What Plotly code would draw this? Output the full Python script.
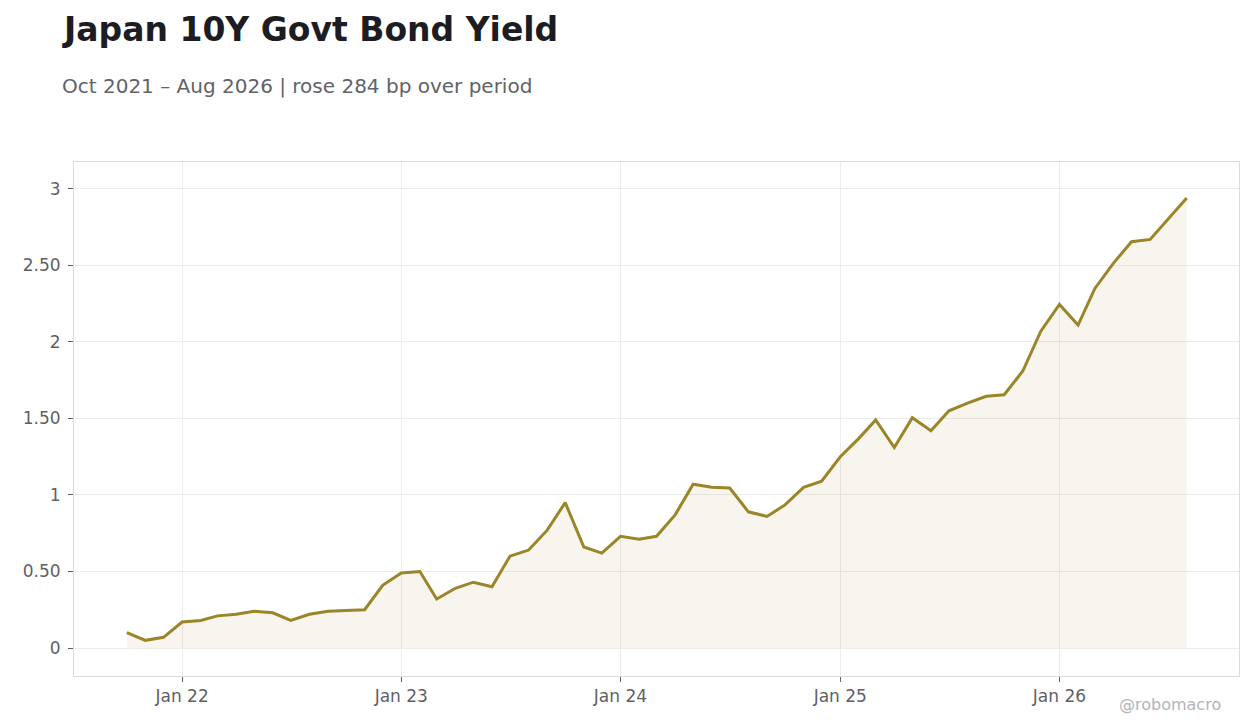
import pandas as pd
import plotly.graph_objs as go

# monthly JGB 10Y yield, Oct 2021 .. Aug 2026
months = pd.date_range("2021-10-01", "2026-08-01", freq="MS")
yields = [
    0.10, 0.05, 0.07,
    0.17, 0.18, 0.21, 0.22, 0.24, 0.23, 0.18, 0.22, 0.24, 0.245, 0.25, 0.41,
    0.49, 0.50, 0.32, 0.39, 0.43, 0.40, 0.60, 0.64, 0.77, 0.95, 0.66, 0.62,
    0.73, 0.71, 0.73, 0.87, 1.07, 1.05, 1.045, 0.89, 0.86, 0.935, 1.05, 1.09,
    1.25, 1.37, 1.49, 1.31, 1.505, 1.42, 1.55, 1.60, 1.645, 1.655, 1.81, 2.07,
    2.245, 2.11, 2.35, 2.515, 2.655, 2.67, 2.80, 2.94,
]
y_ticks = [0, 0.5, 1, 1.5, 2, 2.5, 3]
y_labels = ["0", "0.50", "1", "1.50", "2", "2.50", "3"]

LINE = "#9b8528"
FONT = "DejaVu Sans"

fig = go.Figure()
fig.add_trace(go.Scatter(x=months, y=yields, mode="lines",
                         line=dict(color=LINE, width=3),
                         fill="tozeroy", fillcolor="rgba(155,133,40,0.08)",
                         hoverinfo="x+y", showlegend=False))

# page body has an 8px margin, margins below account for it
fig.update_layout(
    width=1260, height=728,
    margin=dict(l=66, r=29, t=154, b=60),
    paper_bgcolor="white", plot_bgcolor="white",
    font=dict(family=FONT, color="#5f5f66", size=17),
    annotations=[
        dict(text="<b>Japan 10Y Govt Bond Yield</b>", xref="paper", yref="paper",
             x=-0.012, y=1.257, xanchor="left", yanchor="middle", showarrow=False,
             font=dict(size=33, color="#1c1c22", family=FONT)),
        dict(text="Oct 2021 – Aug 2026 | rose 284 bp over period", xref="paper", yref="paper",
             x=-0.012, y=1.148, xanchor="left", yanchor="middle", showarrow=False,
             font=dict(size=20, color="#62626a", family=FONT)),
        dict(text="@robomacro", xref="paper", yref="paper",
             x=0.986, y=-0.056, xanchor="right", yanchor="middle", showarrow=False,
             font=dict(size=16, color="#b4b4b8", family=FONT)),
    ],
)
fig.update_xaxes(range=["2021-07-05", "2026-10-27"], dtick="M12", tick0="2022-01-01",
                 tickformat="%b %y", ticks="outside", ticklen=5, tickcolor="#5f5f66",
                 showgrid=True, gridcolor="#ececec", zeroline=False,
                 showline=True, linecolor="#dcdcdc", mirror=True,
                 tickfont=dict(size=17, color="#5f5f66"))
fig.update_yaxes(range=[-0.183, 3.176], tickvals=y_ticks, ticktext=y_labels,
                 ticks="outside", ticklen=5, tickcolor="#5f5f66", ticklabelstandoff=4,
                 showgrid=True, gridcolor="#ececec", zeroline=False,
                 showline=True, linecolor="#dcdcdc", mirror=True,
                 tickfont=dict(size=17, color="#5f5f66"))

fig.write_html("out.html")
